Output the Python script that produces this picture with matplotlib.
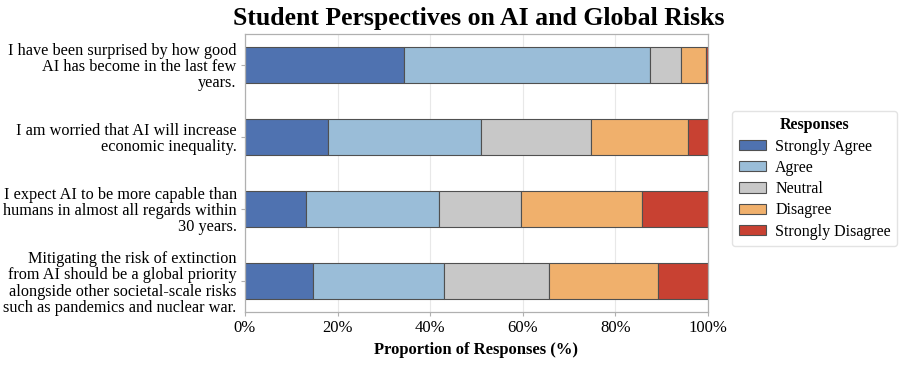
import matplotlib
matplotlib.use("Agg")
import matplotlib.pyplot as plt
import numpy as np

categories = [
    "I have been surprised by how good\nAI has become in the last few\nyears.",
    "I am worried that AI will increase\neconomic inequality.",
    "I expect AI to be more capable than\nhumans in almost all regards within\n30 years.",
    "Mitigating the risk of extinction\nfrom AI should be a global priority\nalongside other societal-scale risks\nsuch as pandemics and nuclear war.",
]
series = ["Strongly Agree", "Agree", "Neutral", "Disagree", "Strongly Disagree"]
strongly_agree = [34.4, 18.0, 13.2, 14.7]
agree = [53.1, 32.9, 28.6, 28.2]
neutral = [6.7, 23.8, 17.9, 22.7]
disagree = [5.4, 20.9, 26.0, 23.7]
strongly_disagree = [0.4, 4.4, 14.3, 10.7]
values = [strongly_agree, agree, neutral, disagree, strongly_disagree]
colors = ["#4f72b0", "#9abdd8", "#c8c8c8", "#f0b06c", "#c84132"]
xticks = [0, 20, 40, 60, 80, 100]
xticklabels = ["0%", "20%", "40%", "60%", "80%", "100%"]

plt.rcParams['font.family'] = ['Liberation Serif', 'DejaVu Serif']

fig = plt.figure(figsize=(9.12, 3.68), dpi=100)
ax = fig.add_axes([245/912, 1-312/368, (708-245)/912, (312-34)/368])

y = np.arange(len(categories))
left = np.zeros(len(categories))
for name, vals, c in zip(series, values, colors):
    ax.barh(y, vals, left=left, height=0.5, color=c, edgecolor="#505050",
            linewidth=0.8, label=name, zorder=2)
    left += np.array(vals)

ax.set_xlim(0, 100)
ax.invert_yaxis()
ax.set_yticks(y)
ax.set_yticklabels(categories, fontsize=11.7, ha="right", linespacing=1.02)
ax.set_xticks(xticks)
ax.set_xticklabels(xticklabels, fontsize=12)
ax.xaxis.grid(True, color="#e8e8e8", linewidth=0.8, zorder=0)
ax.set_axisbelow(True)
for s in ax.spines.values():
    s.set_color("#b0b0b0")
    s.set_linewidth(0.9)
ax.tick_params(axis="both", color="#b0b0b0", length=3, width=0.8, pad=3)
ax.set_xlabel("Proportion of Responses (%)", fontsize=12, fontweight="bold", labelpad=4)
fig.suptitle("Student Perspectives on AI and Global Risks", fontsize=18.5,
             fontweight="bold", x=0.525, y=0.98, va="top")

leg = ax.legend(title="Responses", loc="center left", bbox_to_anchor=(1.035, 0.48),
                fontsize=11.5, title_fontproperties={"weight": "bold", "size": 11.5},
                frameon=True, edgecolor="#dddddd", fancybox=True,
                handlelength=1.7, handleheight=0.6, labelspacing=0.33,
                borderpad=0.4, handletextpad=0.6)

fig.savefig("out.png", dpi=100)
